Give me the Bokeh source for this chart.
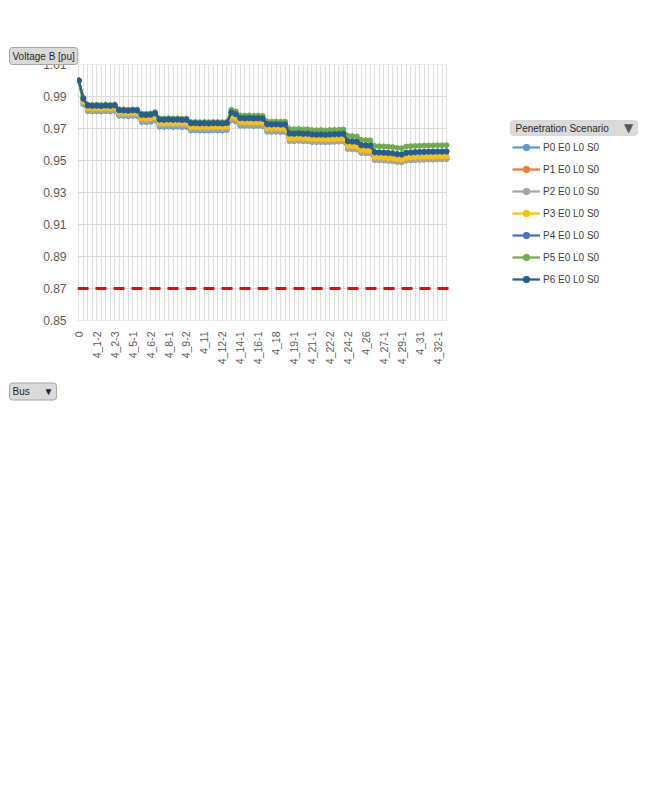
import math
from bokeh.plotting import figure
from bokeh.models import (Range1d, FixedTicker, Legend, LegendItem, Label,
                          BoxAnnotation, NumeralTickFormatter, Title)
from bokeh.embed import file_html
from bokeh.resources import INLINE

# ---------------- data ----------------
buses = ["0", "4", "4_1", "4_1-1", "4_1-2", "4_2", "4_2-1", "4_2-2", "4_2-3",
         "4_3", "4_4", "4_5", "4_5-1", "4_5-2", "4_6", "4_6-1", "4_6-2",
         "4_7", "4_7-1", "4_8", "4_8-1", "4_8-2", "4_9", "4_9-1", "4_9-2",
         "4_10", "4_10-1", "4_10-2", "4_11", "4_11-1", "4_12", "4_12-1", "4_12-2",
         "4_13", "4_13-1", "4_14", "4_14-1", "4_14-2", "4_15", "4_16", "4_16-1",
         "4_16-2", "4_17", "4_17-1", "4_18", "4_18-1", "4_18-2", "4_19", "4_19-1",
         "4_19-2", "4_20", "4_21", "4_21-1", "4_21-2", "4_22", "4_22-1", "4_22-2",
         "4_23", "4_24", "4_24-1", "4_24-2", "4_25", "4_25-1", "4_25-2", "4_26",
         "4_26-1", "4_26-2", "4_27", "4_27-1", "4_27-2", "4_28", "4_29", "4_29-1",
         "4_29-2", "4_30", "4_30-1", "4_31", "4_31-1", "4_31-2", "4_32", "4_32-1",
         "4_32-2", "4_33"]

p0_e0 = [1.0000,
         0.9852, 0.9809, 0.9807, 0.9808, 0.9806, 0.9809, 0.9807, 0.9810, 0.9780, 0.9779, 0.9777, 0.9779, 0.9778,
         0.9741, 0.9740, 0.9742, 0.9750, 0.9711, 0.9710, 0.9712, 0.9710, 0.9711, 0.9709, 0.9710, 0.9688, 0.9689, 0.9687, 0.9688, 0.9687, 0.9689, 0.9688, 0.9687, 0.9690,
         0.9753, 0.9743, 0.9718, 0.9717, 0.9718, 0.9716, 0.9717, 0.9715, 0.9680, 0.9679, 0.9680, 0.9678, 0.9679,
         0.9622, 0.9621, 0.9623, 0.9620, 0.9621, 0.9616, 0.9615, 0.9616, 0.9614, 0.9616, 0.9617, 0.9618, 0.9620,
         0.9573, 0.9571, 0.9569, 0.9548, 0.9546, 0.9545,
         0.9504, 0.9502, 0.9501, 0.9499, 0.9497, 0.9492, 0.9490, 0.9500, 0.9502, 0.9504, 0.9505, 0.9506, 0.9507, 0.9507, 0.9508, 0.9508, 0.9509]

p1_e0 = [1.0000,
         0.9868, 0.9825, 0.9823, 0.9824, 0.9822, 0.9825, 0.9823, 0.9826, 0.9796, 0.9795, 0.9793, 0.9795, 0.9794,
         0.9761, 0.9760, 0.9762, 0.9770, 0.9731, 0.9730, 0.9732, 0.9730, 0.9731, 0.9729, 0.9730, 0.9708, 0.9709, 0.9707, 0.9708, 0.9707, 0.9709, 0.9708, 0.9707, 0.9710,
         0.9773, 0.9763, 0.9738, 0.9737, 0.9738, 0.9736, 0.9737, 0.9735, 0.9700, 0.9699, 0.9700, 0.9698, 0.9699,
         0.9638, 0.9637, 0.9639, 0.9636, 0.9637, 0.9632, 0.9631, 0.9632, 0.9630, 0.9632, 0.9633, 0.9634, 0.9636,
         0.9589, 0.9587, 0.9585, 0.9564, 0.9562, 0.9561,
         0.9519, 0.9517, 0.9516, 0.9514, 0.9512, 0.9507, 0.9505, 0.9515, 0.9517, 0.9519, 0.9520, 0.9521, 0.9522, 0.9522, 0.9523, 0.9523, 0.9524]

p2_e0 = [1.0000,
         0.9858, 0.9815, 0.9813, 0.9814, 0.9812, 0.9815, 0.9813, 0.9816, 0.9786, 0.9785, 0.9783, 0.9785, 0.9784,
         0.9749, 0.9748, 0.9750, 0.9758, 0.9719, 0.9718, 0.9720, 0.9718, 0.9719, 0.9717, 0.9718, 0.9696, 0.9697, 0.9695, 0.9696, 0.9695, 0.9697, 0.9696, 0.9695, 0.9698,
         0.9759, 0.9749, 0.9724, 0.9723, 0.9724, 0.9722, 0.9723, 0.9721, 0.9686, 0.9685, 0.9686, 0.9684, 0.9685,
         0.9624, 0.9623, 0.9625, 0.9622, 0.9623, 0.9618, 0.9617, 0.9618, 0.9616, 0.9618, 0.9619, 0.9620, 0.9622,
         0.9573, 0.9571, 0.9569, 0.9548, 0.9546, 0.9545,
         0.9503, 0.9501, 0.9500, 0.9498, 0.9496, 0.9491, 0.9489, 0.9499, 0.9501, 0.9503, 0.9504, 0.9505, 0.9506, 0.9506, 0.9507, 0.9507, 0.9508]

p3_e0 = [1.0000,
         0.9870, 0.9827, 0.9825, 0.9826, 0.9824, 0.9827, 0.9825, 0.9828, 0.9798, 0.9797, 0.9795, 0.9797, 0.9796,
         0.9763, 0.9762, 0.9764, 0.9772, 0.9733, 0.9732, 0.9734, 0.9732, 0.9733, 0.9731, 0.9732, 0.9710, 0.9711, 0.9709, 0.9710, 0.9709, 0.9711, 0.9710, 0.9709, 0.9712,
         0.9775, 0.9765, 0.9740, 0.9739, 0.9740, 0.9738, 0.9739, 0.9737, 0.9702, 0.9701, 0.9702, 0.9700, 0.9701,
         0.9640, 0.9639, 0.9641, 0.9638, 0.9639, 0.9634, 0.9633, 0.9634, 0.9632, 0.9634, 0.9635, 0.9636, 0.9638,
         0.9591, 0.9589, 0.9587, 0.9566, 0.9564, 0.9563,
         0.9521, 0.9519, 0.9518, 0.9516, 0.9514, 0.9509, 0.9507, 0.9517, 0.9519, 0.9521, 0.9522, 0.9523, 0.9524, 0.9524, 0.9525, 0.9525, 0.9526]

p4_e0 = [1.0000,
         0.9885, 0.9842, 0.9840, 0.9841, 0.9839, 0.9842, 0.9840, 0.9843, 0.9813, 0.9812, 0.9810, 0.9812, 0.9811,
         0.9784, 0.9783, 0.9785, 0.9793, 0.9754, 0.9753, 0.9755, 0.9753, 0.9754, 0.9752, 0.9753, 0.9731, 0.9732, 0.9730, 0.9731, 0.9730, 0.9732, 0.9731, 0.9730, 0.9733,
         0.9798, 0.9788, 0.9763, 0.9762, 0.9763, 0.9761, 0.9762, 0.9760, 0.9725, 0.9724, 0.9725, 0.9723, 0.9724,
         0.9667, 0.9666, 0.9668, 0.9665, 0.9666, 0.9661, 0.9660, 0.9661, 0.9659, 0.9661, 0.9662, 0.9663, 0.9665,
         0.9619, 0.9617, 0.9615, 0.9594, 0.9592, 0.9591,
         0.9550, 0.9548, 0.9547, 0.9545, 0.9543, 0.9538, 0.9536, 0.9546, 0.9548, 0.9550, 0.9551, 0.9552, 0.9553, 0.9553, 0.9554, 0.9554, 0.9555]

p5_e0 = [1.0000,
         0.9892, 0.9849, 0.9847, 0.9848, 0.9846, 0.9849, 0.9847, 0.9850, 0.9820, 0.9819, 0.9817, 0.9819, 0.9818,
         0.9793, 0.9792, 0.9794, 0.9802, 0.9763, 0.9762, 0.9764, 0.9762, 0.9763, 0.9761, 0.9762, 0.9740, 0.9741, 0.9739, 0.9740, 0.9739, 0.9741, 0.9740, 0.9739, 0.9742,
         0.9817, 0.9807, 0.9782, 0.9781, 0.9782, 0.9780, 0.9781, 0.9779, 0.9744, 0.9743, 0.9744, 0.9742, 0.9743,
         0.9696, 0.9695, 0.9697, 0.9694, 0.9695, 0.9690, 0.9689, 0.9690, 0.9688, 0.9690, 0.9691, 0.9692, 0.9694,
         0.9654, 0.9652, 0.9650, 0.9629, 0.9627, 0.9626,
         0.9591, 0.9589, 0.9588, 0.9586, 0.9584, 0.9579, 0.9577, 0.9587, 0.9589, 0.9591, 0.9592, 0.9593, 0.9594, 0.9594, 0.9595, 0.9595, 0.9596]

p6_e0 = [1.0000,
         0.9888, 0.9845, 0.9843, 0.9844, 0.9842, 0.9845, 0.9843, 0.9846, 0.9816, 0.9815, 0.9813, 0.9815, 0.9814,
         0.9787, 0.9786, 0.9788, 0.9796, 0.9757, 0.9756, 0.9758, 0.9756, 0.9757, 0.9755, 0.9756, 0.9734, 0.9735, 0.9733, 0.9734, 0.9733, 0.9735, 0.9734, 0.9733, 0.9736,
         0.9801, 0.9791, 0.9766, 0.9765, 0.9766, 0.9764, 0.9765, 0.9763, 0.9728, 0.9727, 0.9728, 0.9726, 0.9727,
         0.9670, 0.9669, 0.9671, 0.9668, 0.9669, 0.9664, 0.9663, 0.9664, 0.9662, 0.9664, 0.9665, 0.9666, 0.9668,
         0.9622, 0.9620, 0.9618, 0.9597, 0.9595, 0.9594,
         0.9553, 0.9551, 0.9550, 0.9548, 0.9546, 0.9541, 0.9539, 0.9549, 0.9551, 0.9553, 0.9554, 0.9555, 0.9556, 0.9556, 0.9557, 0.9557, 0.9558]

series_names = ["P0 E0 L0 S0", "P1 E0 L0 S0", "P2 E0 L0 S0", "P3 E0 L0 S0",
                "P4 E0 L0 S0", "P5 E0 L0 S0", "P6 E0 L0 S0"]
series_values = [p0_e0, p1_e0, p2_e0, p3_e0, p4_e0, p5_e0, p6_e0]
series_colors = ["#5B9BD5", "#ED7D31", "#A5A5A5", "#FFC000", "#4472C4", "#70AD47", "#255E91"]

limit_value = 0.87
y_ticks = [0.85, 0.87, 0.89, 0.91, 0.93, 0.95, 0.97, 0.99, 1.01]
label_step = 4

# ---------------- figure ----------------
FONT = "Liberation Sans"
idx = list(range(len(buses)))

W, H = 640, 800
FL, FT, FB = 77, 64, 320          # frame edges on the page
px_per_bus = 4.4836
x_start = -0.3
x_end = x_start + (W - FL) / px_per_bus

p = figure(width=W, height=H, output_backend="svg", toolbar_location=None,
           x_range=Range1d(x_start, x_end), y_range=Range1d(y_ticks[0], y_ticks[-1]),
           min_border_left=FL, min_border_right=0, min_border_top=FT,
           min_border_bottom=H - FB)
p.outline_line_color = None
p.background_fill_color = "white"
p.border_fill_color = "white"

sy = (FB - FT) / (y_ticks[-1] - y_ticks[0])


def xd(px):
    return x_start + (px - FL) / px_per_bus


def yd(py):
    return y_ticks[-1] - (py - FT) / sy


# x axis (category axis, labels every 4th bus)
label_ticks = list(range(0, len(buses), label_step))
p.xaxis.ticker = FixedTicker(ticks=label_ticks, minor_ticks=idx)
p.xaxis.major_label_overrides = {i: buses[i] for i in label_ticks}
p.xaxis.major_label_orientation = math.pi / 2
p.xaxis.major_label_standoff = 5
p.xaxis.axis_line_color = None
p.xaxis.major_tick_line_color = None
p.xaxis.minor_tick_line_color = None
p.xaxis.major_label_text_font = FONT
p.xaxis.major_label_text_font_size = "10.5px"
p.xaxis.major_label_text_color = "#595959"

p.xgrid.grid_line_color = "#dedede"
p.xgrid.minor_grid_line_color = "#dedede"
p.ygrid.grid_line_color = None

# y axis
p.yaxis.ticker = FixedTicker(ticks=y_ticks)
p.yaxis.formatter = NumeralTickFormatter(format="0.00")
p.yaxis.axis_line_color = None
p.yaxis.major_tick_line_color = None
p.yaxis.minor_tick_line_color = None
p.yaxis.major_label_standoff = 5
p.yaxis.major_label_text_font = FONT
p.yaxis.major_label_text_font_size = "12px"
p.yaxis.major_label_text_color = "#595959"

# horizontal gridlines up to the last bus
p.segment(x0=[x_start] * len(y_ticks), x1=[idx[-1]] * len(y_ticks),
          y0=y_ticks, y1=y_ticks, line_color="#d9d9d9", line_width=1)

# limit line
p.line(x=[x_start, idx[-1] + 1.5], y=[limit_value, limit_value], line_color="#FF0000",
       line_width=3, line_dash="11 7")

items = []
for name, vals, col in zip(series_names, series_values, series_colors):
    r1 = p.line(idx, vals, line_color=col, line_width=2.25)
    r2 = p.scatter(idx, vals, size=5, fill_color=col, line_color=col)
    items.append(LegendItem(label=name, renderers=[r1, r2]))

legend = Legend(items=items, location=(512 - FL, FB - 287), orientation="vertical",
                glyph_width=28, glyph_height=16, label_height=16, spacing=6,
                padding=0, margin=0, label_standoff=3, border_line_color=None,
                background_fill_alpha=0, label_text_font=FONT,
                label_text_font_size="10px", label_text_color="#404040")
p.add_layout(legend)

# legend header button (inside the frame area)
p.add_layout(BoxAnnotation(left=xd(510), right=xd(637), top=yd(120), bottom=yd(135),
                           fill_color="#dadada", fill_alpha=1.0,
                           line_color="#a6a6a6", line_width=1, border_radius=3))
p.add_layout(Label(x=xd(515), y=yd(127.5), text="Penetration Scenario",
                   text_font=FONT, text_font_size="10px", text_color="#262626",
                   text_baseline="middle", text_align="left"))
p.add_layout(Label(x=xd(628), y=yd(127.5), text="▼", text_font="DejaVu Sans",
                   text_font_size="12px", text_color="#595959",
                   text_baseline="middle", text_align="center"))

# the plot title sits nearest the frame: use it as an invisible spacer
p.title.text = "."
p.title.align = "left"
p.title.standoff = 16
p.title.text_font = FONT
p.title.text_font_size = "10px"
p.title.text_font_style = "normal"
p.title.text_alpha = 0
p.title.padding = 3

# "Voltage B [pu]" field button, stacked above the spacer
field_title = Title(text="Voltage B [pu]", align="left", offset=9 - FL, standoff=0,
                    text_font=FONT, text_font_size="10px", text_font_style="normal",
                    text_color="#262626", background_fill_color="#dadada",
                    border_line_color="#a6a6a6", padding=3, border_radius=3)
p.add_layout(field_title, "above")

# "Bus" field button below the axis
bus_title = Title(text="Bus\u00a0\u00a0\u00a0\u00a0\u00a0▼", align="left", offset=9 - FL,
                  standoff=27, text_font=FONT, text_font_size="10px",
                  text_font_style="normal", text_color="#262626",
                  background_fill_color="#dadada", border_line_color="#a6a6a6",
                  padding=3, border_radius=3)
p.add_layout(bus_title, "below")

open("out.html", "w").write(file_html(p, INLINE))
